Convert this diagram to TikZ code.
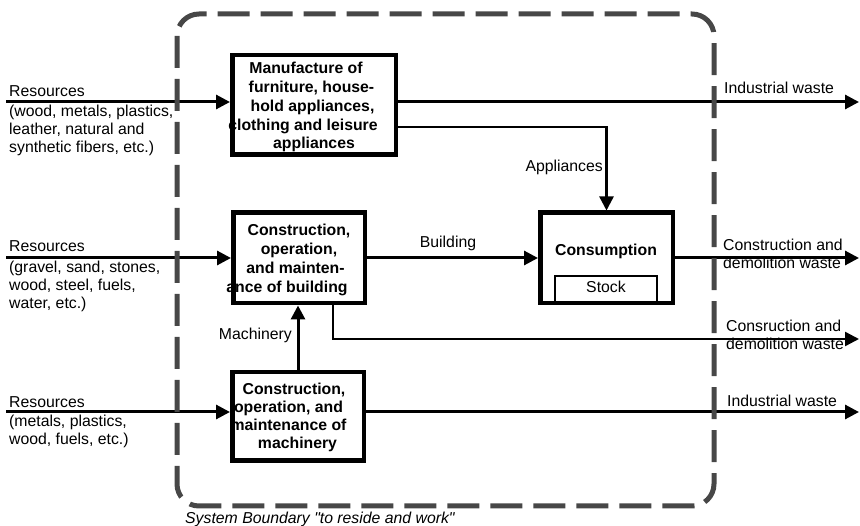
\documentclass[tikz,border=0pt]{standalone}
\usepackage{fontspec}
\setmainfont{Liberation Sans}
% same face, but straight quotes kept as typed
\newfontfamily\capfont{Liberation Sans}[Ligatures=ResetAll]
\usetikzlibrary{arrows.meta}
% a centred line of zero width, moved sideways by #1 pt
\newcommand\lineat[2]{\makebox[0pt][c]{\hspace*{#1pt}\hspace*{#1pt}#2}}
\begin{document}
\begin{tikzpicture}[x=1pt,y=-1pt,
  proc/.style={draw, line width=4.5pt, inner sep=0pt},
  boxtitle/.style={font=\bfseries\fontsize{15.8}{#1}\selectfont, inner sep=0pt, anchor=base},
  boxtitle/.default=18.7,
  lbl/.style={font=\fontsize{15.8}{18}\selectfont, inner sep=0pt},
  flow/.style={line width=3pt, -{Triangle[length=14pt,width=14pt]}},
  thinflow/.style={line width=2.4pt, -{Triangle[length=14pt,width=14pt]}},
  boundary/.style={draw=black!72, line width=5pt, dash pattern=on 32pt off 11pt, rounded corners=22pt}
]
\useasboundingbox (0,0) rectangle (860,526);

% process boxes
\node[proc, minimum width=163.5pt, minimum height=99.5pt] (mfg) at (314,105) {};
\node[proc, minimum width=131.5pt, minimum height=90.5pt] (bld) at (299,258) {};
\node[proc, minimum width=132.5pt, minimum height=90.5pt] (cons) at (606.5,258) {};
\node[proc, minimum width=131.5pt, minimum height=88.5pt] (mach) at (298,416.5) {};
\node[draw, line width=1.6pt, inner sep=0pt, minimum width=102.4pt, minimum height=28pt] (stock) at (606,290) {};

% box texts
\node[boxtitle] (mfgtext) at (314,74) {\begin{tabular}[t]{@{}c@{}}\lineat{-8}{Manufacture of}\\ \lineat{-2.5}{furniture, house-}\\ \lineat{-1.5}{hold appliances,}\\ \lineat{-11}{clothing and leisure}\\ \lineat{0}{appliances}\end{tabular}};
\node[boxtitle] (bldtext) at (299,236) {\begin{tabular}[t]{@{}c@{}}\lineat{0}{Construction,}\\ \lineat{0}{operation,}\\ \lineat{-3.5}{and mainten-}\\ \lineat{-12}{ance of building}\end{tabular}};
\node[boxtitle=18] (machtext) at (298,395) {\begin{tabular}[t]{@{}c@{}}\lineat{-4}{Construction,}\\ \lineat{-9.5}{operation, and}\\ \lineat{-9.5}{maintenance of}\\ \lineat{-0.5}{machinery}\end{tabular}};
\node[boxtitle] (constext) at (606,256) {Consumption};
\node[lbl, anchor=base] (stocktext) at (606,293) {Stock};

% inflows of resources
\coordinate (r1) at (6,102);
\coordinate (r2) at (6,258);
\coordinate (r3) at (6,412);
\draw[flow] (r1) -- (r1 -| mfg.west);
\draw[flow] (r2) -- (bld.west);
\draw[flow] (r3) -- (r3 -| mach.west);

% outflows of waste
\coordinate (w1) at (859,102);
\coordinate (w2) at (859,258);
\coordinate (w3) at (859,339);
\coordinate (w4) at (859,412);
\draw[flow] (w1 -| mfg.east) -- (w1);
\draw[flow] (cons.east) -- (w2);
\draw[thinflow] ([xshift=34pt]bld.south) |- (w3);
\draw[flow] (w4 -| mach.east) -- (w4);

% internal flows
\draw[thinflow] ([yshift=-22pt]mfg.east) -| (cons.north);
\draw[flow] (bld.east) -- (cons.west);
\draw[flow] (mach.north) -- (mach.north |- bld.south);

% flow labels
\node[lbl, anchor=base west] (res1) at (9,97) {Resources};
\node[lbl, anchor=base west] (res1d) at (9,117) {\begin{tabular}[t]{@{}l@{}}(wood, metals, plastics,\\ leather, natural and\\ synthetic fibers, etc.)\end{tabular}};
\node[lbl, anchor=base west] (res2) at (9,252) {Resources};
\node[lbl, anchor=base west] (res2d) at (9,273) {\begin{tabular}[t]{@{}l@{}}(gravel, sand, stones,\\ wood, steel, fuels,\\ water, etc.)\end{tabular}};
\node[lbl, anchor=base west] (res3) at (9,408) {Resources};
\node[lbl, anchor=base west] (res3d) at (9,427) {\begin{tabular}[t]{@{}l@{}}(metals, plastics,\\ wood, fuels, etc.)\end{tabular}};

\node[lbl, anchor=base west] (iw1) at (724,94) {Industrial waste};
\node[lbl, anchor=base west] (cdw1) at (723,251) {\begin{tabular}[t]{@{}l@{}}Construction and\\ demolition waste\end{tabular}};
\node[lbl, anchor=base west] (cdw2) at (726,332) {\begin{tabular}[t]{@{}l@{}}Consruction and\\ demolition waste\end{tabular}};
\node[lbl, anchor=base west] (iw2) at (727,407) {Industrial waste};

\node[lbl, anchor=base east] (appl) at (603,172) {Appliances};
\node[lbl, anchor=base] (bldlbl) at (448,248) {Building};
\node[lbl, anchor=base east] (machlbl) at (292,340) {Machinery};

% system boundary
\draw[boundary] (177,14) rectangle (714,506);
\node[lbl, anchor=base west, font={\capfont\itshape\fontsize{15.8}{18}\selectfont}] (caption) at (185,524) {System Boundary "to reside and work"};
\end{tikzpicture}
\end{document}
